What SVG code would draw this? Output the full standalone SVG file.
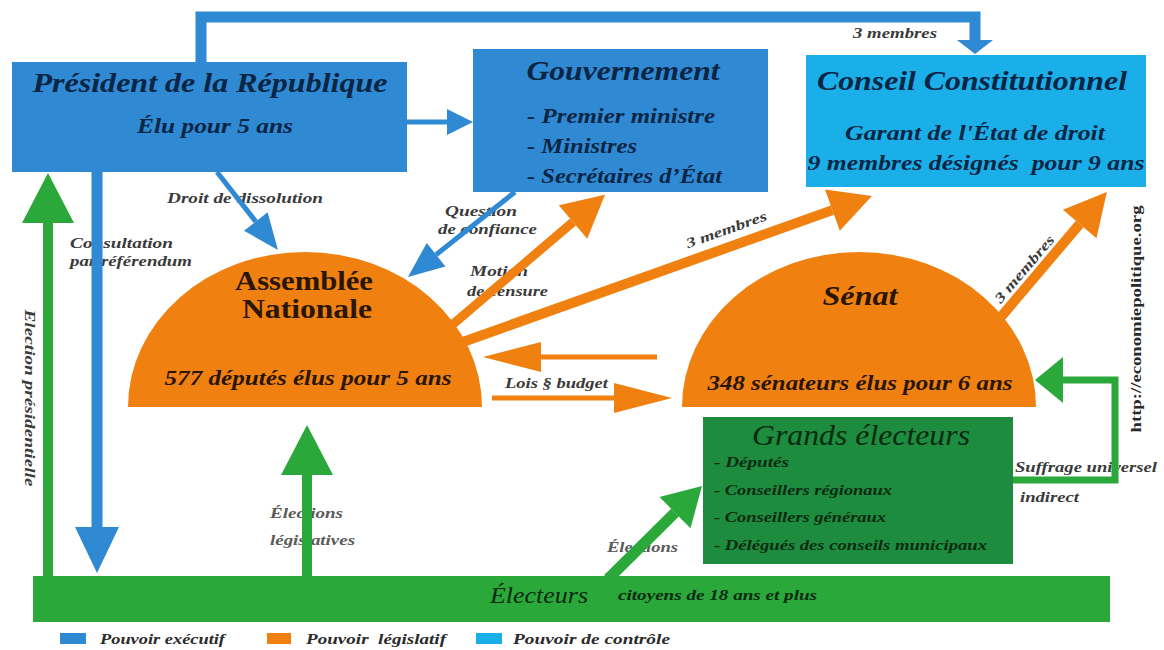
<svg xmlns="http://www.w3.org/2000/svg" width="1164" height="650" viewBox="0 0 1164 650">
<style>
  .exec { fill: #2F89D3; }
  .ctrl { fill: #1AAFE8; }
  .leg { fill: #F08010; }
  .grn { fill: #2BA83A; }
  .grnD { fill: #1E8C3E; }
  text { font-family: "Liberation Serif", "Times New Roman", serif; }
  .title { font-weight: bold; font-style: italic; fill: #0B2545; }
  .sub { font-weight: bold; font-style: italic; fill: #0B2545; }
  .otxt { font-weight: bold; fill: #2A1606; }
  .gtxt { font-style: italic; fill: #0A2A12; }
  .lbl { font-weight: bold; font-style: italic; font-size: 14px; fill: #3A3A3A; }
  .lblg { font-weight: bold; font-style: italic; font-size: 14px; fill: #5A5A5A; }
  .ln-b { stroke: #2F89D3; fill: none; }
  .ln-o { stroke: #F08010; fill: none; }
  .ln-g { stroke: #2BA83A; fill: none; }
  .legtxt { font-weight: bold; font-style: italic; font-size: 14px; fill: #2A2A2A; }
</style>
<defs>
  <marker id="blueS" markerUnits="userSpaceOnUse" markerWidth="60" markerHeight="60" refX="0" refY="0" viewBox="-1 -30 60 60" orient="auto" overflow="visible"><path d="M0,-13 L26,0 L0,13 Z" fill="#2F89D3"/></marker>
  <marker id="blueM" markerUnits="userSpaceOnUse" markerWidth="60" markerHeight="60" refX="0" refY="0" viewBox="-1 -30 60 60" orient="auto" overflow="visible"><path d="M0,-15 L36,0 L0,15 Z" fill="#2F89D3"/></marker>
  <marker id="blueL" markerUnits="userSpaceOnUse" markerWidth="60" markerHeight="60" refX="0" refY="0" viewBox="-1 -30 60 60" orient="auto" overflow="visible"><path d="M0,-22 L46,0 L0,22 Z" fill="#2F89D3"/></marker>
  <marker id="blueFlat" markerUnits="userSpaceOnUse" markerWidth="60" markerHeight="60" refX="0" refY="0" viewBox="-1 -30 60 60" orient="auto" overflow="visible"><path d="M0,-18 L14,0 L0,18 Z" fill="#2F89D3"/></marker>
  <marker id="orange" markerUnits="userSpaceOnUse" markerWidth="60" markerHeight="60" refX="0" refY="0" viewBox="-1 -30 60 60" orient="auto" overflow="visible"><path d="M0,-22 L42,0 L0,22 Z" fill="#F08010"/></marker>
  <marker id="orangeH" markerUnits="userSpaceOnUse" markerWidth="70" markerHeight="60" refX="0" refY="0" viewBox="-1 -30 70 60" orient="auto" overflow="visible"><path d="M0,-15 L58,0 L0,15 Z" fill="#F08010"/></marker>
  <marker id="greenL" markerUnits="userSpaceOnUse" markerWidth="60" markerHeight="60" refX="0" refY="0" viewBox="-1 -30 60 60" orient="auto" overflow="visible"><path d="M0,-26 L50,0 L0,26 Z" fill="#2BA83A"/></marker>
  <marker id="greenM" markerUnits="userSpaceOnUse" markerWidth="60" markerHeight="60" refX="0" refY="0" viewBox="-1 -30 60 60" orient="auto" overflow="visible"><path d="M0,-22 L38,0 L0,22 Z" fill="#2BA83A"/></marker>
  <marker id="greenS" markerUnits="userSpaceOnUse" markerWidth="60" markerHeight="60" refX="0" refY="0" viewBox="-1 -30 60 60" orient="auto" overflow="visible"><path d="M0,-23 L28,0 L0,23 Z" fill="#2BA83A"/></marker>
</defs>
<rect width="1164" height="650" fill="#FFFFFF"/>

<g id="connectors">
  <text class="lbl" x="853" y="38" textLength="84" lengthAdjust="spacingAndGlyphs">3 membres</text>
  <text class="lbl" x="167" y="203" textLength="156" lengthAdjust="spacingAndGlyphs">Droit de dissolution</text>
  <text class="lbl" x="70" y="248" textLength="103" lengthAdjust="spacingAndGlyphs">Consultation</text>
  <text class="lbl" x="70" y="266" textLength="122" lengthAdjust="spacingAndGlyphs">par référendum</text>
  <text class="lbl" x="445" y="216" textLength="72" lengthAdjust="spacingAndGlyphs">Question</text>
  <text class="lbl" x="438" y="234" textLength="99" lengthAdjust="spacingAndGlyphs">de confiance</text>
  <text class="lbl" x="470" y="276" textLength="58" lengthAdjust="spacingAndGlyphs">Motion</text>
  <text class="lbl" x="467" y="296" textLength="81" lengthAdjust="spacingAndGlyphs">de censure</text>
  <text class="lbl" x="728" y="234" text-anchor="middle" textLength="85" lengthAdjust="spacingAndGlyphs" transform="rotate(-19.6 728 234)">3 membres</text>
  <text class="lbl" x="1028" y="272" text-anchor="middle" textLength="84" lengthAdjust="spacingAndGlyphs" transform="rotate(-49.5 1028 272)">3 membres</text>
  <text class="lbl" x="505" y="388" textLength="103" lengthAdjust="spacingAndGlyphs">Lois § budget</text>
  <text class="lblg" x="270" y="518" textLength="73" lengthAdjust="spacingAndGlyphs">Élections</text>
  <text class="lblg" x="270" y="545" textLength="85" lengthAdjust="spacingAndGlyphs">législatives</text>
  <text class="lblg" x="607" y="552" textLength="71" lengthAdjust="spacingAndGlyphs">Élections</text>
  <text class="lbl" x="1015" y="472" textLength="142" lengthAdjust="spacingAndGlyphs">Suffrage universel</text>
  <text class="lbl" x="1020" y="502" textLength="59" lengthAdjust="spacingAndGlyphs">indirect</text>
  <text class="lbl" x="25" y="398" text-anchor="middle" textLength="177" lengthAdjust="spacingAndGlyphs" transform="rotate(90 25 398)">Election présidentielle</text>
  <text x="1141" y="319" text-anchor="middle" textLength="227" lengthAdjust="spacingAndGlyphs" transform="rotate(-90 1141 319)" font-weight="bold" font-size="14" fill="#2A2A2A">http://economiepolitique.org</text>

  <path class="ln-b" d="M201,63 V17 H975 V40" stroke-width="11" marker-end="url(#blueFlat)"/>
  <line class="ln-b" x1="407" y1="122" x2="447" y2="122" stroke-width="5" marker-end="url(#blueS)"/>
  <line class="ln-b" x1="97" y1="172" x2="97" y2="527" stroke-width="11" marker-end="url(#blueL)"/>
  <line class="ln-b" x1="217" y1="172" x2="255.8" y2="221.6" stroke-width="5" marker-end="url(#blueM)"/>
  <line class="ln-b" x1="515" y1="192" x2="436.1" y2="254.7" stroke-width="5" marker-end="url(#blueM)"/>
  <line class="ln-o" x1="452" y1="325" x2="573" y2="222" stroke-width="9" marker-end="url(#orange)"/>
  <line class="ln-o" x1="463" y1="342" x2="832.4" y2="210.1" stroke-width="10" marker-end="url(#orange)"/>
  <line class="ln-o" x1="1000" y1="318" x2="1079.7" y2="224" stroke-width="10" marker-end="url(#orange)"/>
  <line class="ln-o" x1="657" y1="357" x2="541" y2="357" stroke-width="5" marker-end="url(#orangeH)"/>
  <line class="ln-o" x1="492" y1="398" x2="614" y2="398" stroke-width="5" marker-end="url(#orangeH)"/>
  <line class="ln-g" x1="48" y1="578" x2="48" y2="223" stroke-width="10" marker-end="url(#greenL)"/>
  <line class="ln-g" x1="307" y1="578" x2="307" y2="475" stroke-width="10" marker-end="url(#greenL)"/>
  <line class="ln-g" x1="608" y1="579" x2="675" y2="512.7" stroke-width="11" marker-end="url(#greenM)"/>
  <path class="ln-g" d="M1013,480 H1115 V380 H1063" stroke-width="7" marker-end="url(#greenS)"/>
</g>

<g id="president">
  <rect class="exec" x="12" y="62" width="395" height="110"/>
  <text class="title" x="210" y="92" text-anchor="middle" font-size="28" textLength="355" lengthAdjust="spacingAndGlyphs">Président de la République</text>
  <text class="sub" x="215" y="133" text-anchor="middle" font-size="21" textLength="156" lengthAdjust="spacingAndGlyphs">Élu pour 5 ans</text>
</g>

<g id="gouvernement">
  <rect class="exec" x="473" y="49" width="295" height="143"/>
  <text class="title" x="623" y="80" text-anchor="middle" font-size="28" textLength="193" lengthAdjust="spacingAndGlyphs">Gouvernement</text>
  <text class="sub" x="527" y="123" font-size="21" textLength="188" lengthAdjust="spacingAndGlyphs">- Premier ministre</text>
  <text class="sub" x="527" y="153" font-size="21" textLength="110" lengthAdjust="spacingAndGlyphs">- Ministres</text>
  <text class="sub" x="527" y="183" font-size="21" textLength="195" lengthAdjust="spacingAndGlyphs">- Secrétaires d’État</text>
</g>

<g id="conseil">
  <rect class="ctrl" x="806" y="55" width="340" height="132"/>
  <text class="title" x="972" y="90" text-anchor="middle" font-size="28" textLength="310" lengthAdjust="spacingAndGlyphs">Conseil Constitutionnel</text>
  <text class="sub" x="975" y="140" text-anchor="middle" font-size="21" textLength="260" lengthAdjust="spacingAndGlyphs">Garant de l'État de droit</text>
  <text class="sub" x="976" y="170" text-anchor="middle" font-size="21" textLength="337" lengthAdjust="spacingAndGlyphs" style="white-space:pre">9 membres désignés  pour 9 ans</text>
</g>

<g id="assemblee">
  <path class="leg" d="M128,407 A177,155 0 0 1 482,407 Z"/>
  <text class="otxt" x="304" y="290" text-anchor="middle" font-size="28" textLength="138" lengthAdjust="spacingAndGlyphs">Assemblée</text>
  <text class="otxt" x="307" y="318" text-anchor="middle" font-size="28" textLength="130" lengthAdjust="spacingAndGlyphs">Nationale</text>
  <text class="otxt" x="308" y="385" text-anchor="middle" font-size="21" font-style="italic" textLength="287" lengthAdjust="spacingAndGlyphs">577 députés élus pour 5 ans</text>
</g>

<g id="senat">
  <path class="leg" d="M682,407 A177,155 0 0 1 1036,407 Z"/>
  <text class="otxt" x="860" y="305" text-anchor="middle" font-size="28" font-style="italic" textLength="75" lengthAdjust="spacingAndGlyphs">Sénat</text>
  <text class="otxt" x="860" y="390" text-anchor="middle" font-size="21" font-style="italic" textLength="305" lengthAdjust="spacingAndGlyphs">348 sénateurs élus pour 6 ans</text>
</g>

<g id="grands-electeurs">
  <rect class="grnD" x="703" y="417" width="310" height="147"/>
  <text class="gtxt" x="861" y="445" text-anchor="middle" font-size="29" textLength="218" lengthAdjust="spacingAndGlyphs">Grands électeurs</text>
  <text class="gtxt" x="714" y="467" font-size="15" font-weight="bold" textLength="75" lengthAdjust="spacingAndGlyphs">- Députés</text>
  <text class="gtxt" x="714" y="495" font-size="15" font-weight="bold" textLength="178" lengthAdjust="spacingAndGlyphs">- Conseillers régionaux</text>
  <text class="gtxt" x="714" y="522" font-size="15" font-weight="bold" textLength="172" lengthAdjust="spacingAndGlyphs">- Conseillers généraux</text>
  <text class="gtxt" x="714" y="550" font-size="15" font-weight="bold" textLength="273" lengthAdjust="spacingAndGlyphs">- Délégués des conseils municipaux</text>
</g>

<g id="electeurs">
  <rect class="grn" x="33" y="576" width="1077" height="46"/>
  <text class="gtxt" x="490" y="603" font-size="24" textLength="98" lengthAdjust="spacingAndGlyphs">Électeurs</text>
  <text class="gtxt" x="618" y="600" font-size="15" font-weight="bold" textLength="199" lengthAdjust="spacingAndGlyphs">citoyens de 18 ans et plus</text>
</g>

<g id="legend">
  <rect class="exec" x="60" y="633" width="26" height="11"/>
  <text class="legtxt" x="100" y="644" textLength="125" lengthAdjust="spacingAndGlyphs">Pouvoir exécutif</text>
  <rect class="leg" x="267" y="633" width="24" height="11"/>
  <text class="legtxt" x="306" y="644" textLength="140" lengthAdjust="spacingAndGlyphs" style="white-space:pre">Pouvoir  législatif</text>
  <rect class="ctrl" x="476" y="633" width="26" height="11"/>
  <text class="legtxt" x="513" y="644" textLength="157" lengthAdjust="spacingAndGlyphs">Pouvoir de contrôle</text>
</g>
</svg>
